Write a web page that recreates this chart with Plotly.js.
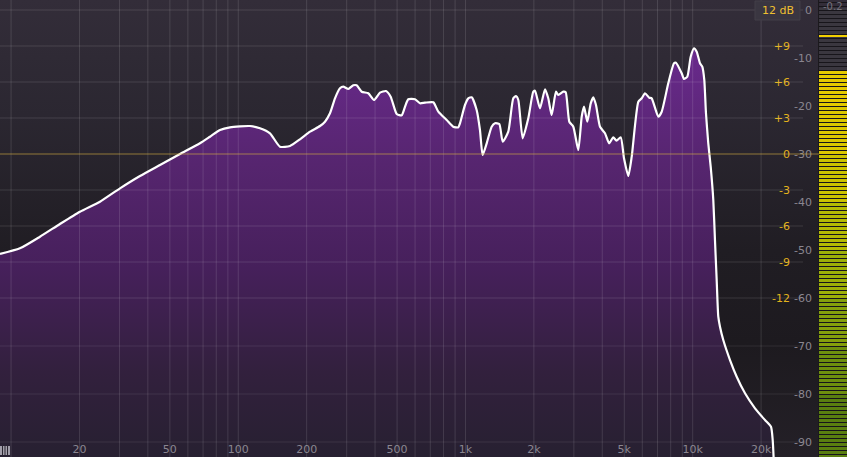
<!DOCTYPE html>
<html><head><meta charset="utf-8">
<script src="https://cdn.plot.ly/plotly-3.0.1.min.js"></script>
<style>
html,body{margin:0;padding:0;background:#1e1b21;overflow:hidden;}
#chart{width:847px;height:457px;background:linear-gradient(to bottom,#332d39 0%,#2b2731 25%,#201d23 55%,#1d1a1f 75%,#242027 100%);}
</style></head><body><div id="chart"></div>
<script>
// ---- data (frequency in Hz, analyzer level in dB) ----
const freqHz = [8.94,10.94,13.40,16.41,20.10,24.62,30.16,36.93,45.23,55.40,67.83,75.07,83.09,91.93,112.6,124.6,137.9,152.6,168.9,186.9,206.9,228.9,240.8,253.3,266.5,280.3,289.9,304.9,320.8,331.9,349.3,373.4,395.6,420.4,446.8,468.6,498.1,524.0,541.8,560.2,599.5,630.7,663.5,721.8,759.3,826.6,883.6,929.6,945.8,994.9,1029,1065,1120,1158,1190,1240,1304,1349,1409,1458,1543,1623,1668,1708,1785,1890,1988,2023,2128,2239,2314,2395,2502,2562,2695,2761,2864,2982,3137,3247,3324,3437,3558,3652,3753,3909,4111,4290,4472,4620,4822,4985,5207,5390,5764,5965,6166,6442,6600,7058,7305,7808,8275,8444,8945,9156,9467,9799,10132,10414,10767,11021,11247,11441,11711,12000,12321,12533,12751,12961,13187,13634,14596,15622,16994,18805,20808,22109,22495,22793];
const levelDb = [-50.83,-49.65,-47.23,-44.58,-42.02,-39.94,-37.15,-34.58,-32.29,-30.00,-27.77,-26.40,-25.00,-24.44,-24.17,-24.65,-25.69,-28.48,-28.33,-26.94,-25.35,-24.17,-23.27,-21.52,-18.40,-16.31,-15.98,-16.46,-15.69,-15.69,-17.02,-17.35,-18.75,-17.23,-16.88,-18.06,-21.67,-21.94,-20.15,-18.60,-18.60,-19.44,-19.31,-19.23,-21.19,-22.92,-24.31,-24.44,-23.60,-19.79,-18.40,-18.19,-20.83,-25.00,-30.21,-27.77,-24.31,-23.60,-23.75,-27.44,-25.35,-18.40,-17.92,-18.75,-26.73,-22.56,-17.02,-16.81,-20.48,-16.52,-18.40,-21.88,-17.02,-17.71,-17.02,-17.15,-23.27,-24.31,-29.17,-22.23,-20.15,-23.27,-19.44,-18.19,-19.79,-24.31,-25.69,-27.77,-26.52,-27.23,-26.52,-30.90,-34.58,-30.56,-19.10,-18.40,-17.35,-18.27,-18.40,-22.23,-21.19,-15.27,-11.10,-10.98,-13.19,-14.38,-13.90,-9.73,-7.98,-8.69,-11.10,-11.81,-14.58,-21.52,-27.77,-32.65,-39.58,-47.92,-56.25,-63.90,-65.98,-68.75,-72.92,-76.40,-79.85,-82.98,-85.42,-86.81,-89.58,-95];

// ---- axis ticks / labels ----
const xTickFreqs = [20,50,100,200,500,1000,2000,5000,10000,20000];
const xTickLabels = ['20','50','100','200','500','1k','2k','5k','10k','20k'];
const xMinorFreqs = [10,30,40,60,70,80,90,300,400,600,700,800,900,3000,4000,6000,7000,8000,9000];
const spectrumTicks = [0,-10,-20,-30,-40,-50,-60,-70,-80,-90];
const spectrumLabels = ['0','-10','-20','-30','-40','-50','-60','-70','-80','-90'];
const eqTicks = [9,6,3,0,-3,-6,-9,-12];
const eqLabels = ['+9','+6','+3','0','-3','-6','-9','-12'];
const eqGridLines = [12,9,6,3,-3,-6,-9,-12];
const spectrumGridLines = [-70,-80,-90];

// ---- output meter ----
const meterLevel = -12.5;
const meterPeak = -5.4;
const meterPeakLabel = '-0.2';
const rangeLabel = '12 dB';

// ---- style ----
const W = 847, H = 457;
const plotRight = 819/W;
const lineRight = 803/W;
const specRange = [-93.125, 2.0833];
const eqRange = [-25.25, 12.8333];
const xRange = [Math.log10(8.94), Math.log10(35966)];
const meterTop = 0.4;
const meterBandEdges = [0.4,-20,-30,-40,-50,-60,-70,-80,-93.2];
const meterBandColors = ['#e4ca00','#dbc700','#cbc200','#b4ba04','#9daf08','#859f0c','#6e8e0e','#5a7e10'];
const meterCols = [0.5,1.5];

const traces = [];
traces.push({x:[freqHz[0], freqHz[freqHz.length-1]], y:[-100,-100], mode:'lines', line:{width:0,color:'rgba(0,0,0,0)'}, hoverinfo:'skip', showlegend:false});
traces.push({x:freqHz, y:levelDb, mode:'lines', line:{color:'#ffffff', width:2.2, shape:'spline', smoothing:0.55},
  fill:'tonexty', fillgradient:{type:'vertical', start:-93, stop:-6,
    colorscale:[[0,'#272031'],[0.2,'#32203d'],[0.45,'#46205b'],[0.7,'#56256f'],[1,'#6b2a8f']]},
  hoverinfo:'skip', showlegend:false});
traces.push({x:[], y:[], xaxis:'x', yaxis:'y2', mode:'lines', hoverinfo:'skip', showlegend:false});
traces.push({x:[], y:[], xaxis:'x2', yaxis:'y', mode:'lines', hoverinfo:'skip', showlegend:false});

// meter (unlit LEDs, lit bands, peak hold)
traces.push({type:'bar', x:meterCols, base:meterCols.map(()=>specRange[0]-1), y:meterCols.map(()=>meterTop-specRange[0]+1),
  width:0.93, xaxis:'x3', yaxis:'y3', marker:{color:'#3a373f', line:{width:0}}, hoverinfo:'skip', showlegend:false});
const mx=[], mb=[], mh=[], mc=[];
meterCols.forEach(c=>{
  for(let i=0;i<meterBandColors.length;i++){
    const top=Math.min(meterBandEdges[i], meterLevel), bot=meterBandEdges[i+1];
    if(top>bot){mx.push(c); mb.push(bot); mh.push(top-bot); mc.push(meterBandColors[i]);}
  }
});
traces.push({type:'bar', x:mx, base:mb, y:mh, width:0.93, xaxis:'x3', yaxis:'y3',
  marker:{color:mc, line:{width:0}}, hoverinfo:'skip', showlegend:false});
traces.push({type:'bar', x:meterCols, base:meterCols.map(()=>meterPeak-0.32), y:meterCols.map(()=>0.64), width:0.93,
  xaxis:'x3', yaxis:'y3', marker:{color:'#f2d000', line:{width:0}}, hoverinfo:'skip', showlegend:false});

const gridColor = 'rgba(255,255,255,0.12)';
const shapes = [];
xTickFreqs.concat(xMinorFreqs).forEach(f=>{
  shapes.push({type:'line', xref:'x', yref:'paper', x0:f, x1:f, y0:0, y1:1, layer:'above', line:{color:gridColor, width:1}});
});
eqGridLines.forEach(v=>{
  shapes.push({type:'line', xref:'paper', yref:'y2', x0:0, x1:lineRight, y0:v, y1:v, layer:'above', line:{color:gridColor, width:1}});
});
spectrumGridLines.forEach(v=>{
  shapes.push({type:'line', xref:'paper', yref:'y', x0:0, x1:lineRight, y0:v, y1:v, layer:'above', line:{color:'rgba(255,255,255,0.09)', width:1}});
});
shapes.push({type:'line', xref:'paper', yref:'y2', x0:0, x1:plotRight, y0:0, y1:0, layer:'above', line:{color:'rgba(212,176,64,0.62)', width:1}});
shapes.push({type:'rect', xref:'paper', yref:'paper', x0:755/W, x1:800/W, y0:1-20/H, y1:1-1/H, layer:'above', fillcolor:'#3a3641', line:{color:'#423e49', width:1}});
// keyboard icon (bottom-left)
shapes.push({type:'rect', xref:'paper', yref:'paper', x0:0, x1:10/W, y0:2/H, y1:11/H, layer:'above', fillcolor:'#a29eaa', line:{width:0}});
[2.5,5,7.5].forEach(px=>shapes.push({type:'line', xref:'paper', yref:'paper', x0:px/W, x1:px/W, y0:2/H, y1:11/H, layer:'above', line:{color:'#2a2630', width:1}}));

const layout = {
  width:W, height:H,
  margin:{l:0,r:0,t:0,b:0,pad:0},
  paper_bgcolor:'rgba(0,0,0,0)', plot_bgcolor:'rgba(0,0,0,0)',
  showlegend:false, barmode:'overlay', bargap:0,
  font:{family:'DejaVu Sans, sans-serif', size:11, color:'#8a8690'},
  xaxis:{type:'log', range:xRange, domain:[0,plotRight], anchor:'y', showticklabels:false,
    ticks:'', showgrid:false, zeroline:false, showline:false, fixedrange:true},
  xaxis2:{type:'log', range:xRange, overlaying:'x', anchor:'free', position:0, side:'top',
    tickmode:'array', tickvals:xTickFreqs, ticktext:xTickLabels, ticks:'', showgrid:false, zeroline:false, showline:false,
    ticklabelstandoff:2, tickfont:{size:11, color:'#8a8690'}, fixedrange:true},
  yaxis:{range:specRange, domain:[0,1], anchor:'x', side:'right', tickmode:'array', tickvals:spectrumTicks, ticktext:spectrumLabels,
    ticks:'', ticklabelposition:'inside', ticklabelstandoff:4, showgrid:false, zeroline:false, showline:false,
    tickfont:{size:11, color:'#8a8690'}, fixedrange:true},
  yaxis2:{range:eqRange, overlaying:'y', anchor:'x', side:'right', tickmode:'array', tickvals:eqTicks, ticktext:eqLabels,
    ticks:'', ticklabelposition:'inside', ticklabelstandoff:26, showgrid:false, zeroline:false, showline:false,
    tickfont:{size:11, color:'#e2b21c'}, fixedrange:true},
  xaxis3:{domain:[plotRight,1], range:[0,2], anchor:'y3', visible:false, fixedrange:true},
  // LED segment gaps drawn as axis ticks above the meter bars (4 px pitch)
  yaxis3:{domain:[0,1], range:specRange, anchor:'x3', side:'left', showticklabels:false, ticks:'inside', ticklen:30, tickwidth:1,
    tickcolor:'#17151a', tickmode:'linear', tick0:meterPeak+0.4, dtick:4/4.8, showgrid:false, zeroline:false, showline:true,
    linecolor:'#1b191d', linewidth:1, layer:'above traces', fixedrange:true},
  shapes:shapes,
  annotations:[
    {xref:'paper', yref:'paper', x:777.5/W, y:1-10.5/H, text:rangeLabel, showarrow:false, xanchor:'center', yanchor:'middle',
     font:{family:'DejaVu Sans, sans-serif', size:11, color:'#f0c030'}},
    {xref:'paper', yref:'paper', x:833/W, y:1-6/H, text:meterPeakLabel, showarrow:false, xanchor:'center', yanchor:'middle',
     font:{family:'DejaVu Sans, sans-serif', size:10, color:'#76727c'}}
  ]
};
Plotly.newPlot('chart', traces, layout, {staticPlot:true, displayModeBar:false});
</script></body></html>
